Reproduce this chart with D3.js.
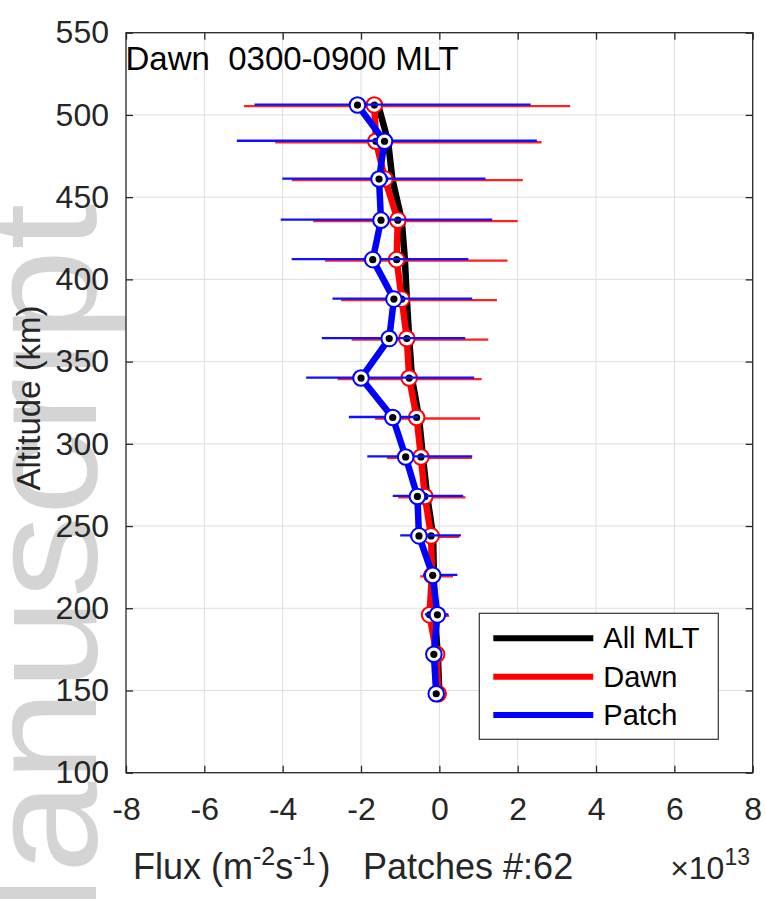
<!DOCTYPE html>
<html>
<head>
<meta charset="utf-8">
<script src="https://cdn.jsdelivr.net/npm/d3@7"></script>
<style>
    body { margin: 0; background: #fff; }
    text { font-family: "Liberation Sans", Arial, Helvetica, sans-serif; }
</style>
</head>
<body>
<div id="chart"></div>
<script>
// altitude bins (km)
const altitude = [506, 484, 461, 436, 412, 388, 364, 340, 316, 292, 268, 244, 220, 196, 172, 148];

// flux, units of 1e13 m^-2 s^-1
const allMlt = [-1.56, -1.31, -1.20, -0.96, -0.88, -0.83, -0.77, -0.70, -0.52, -0.42, -0.31, -0.16, -0.14, -0.12, -0.04, 0.00];

const dawn   = [-1.66, -1.62, -1.39, -1.06, -1.09, -0.96, -0.83, -0.77, -0.58, -0.47, -0.37, -0.21, -0.19, -0.25, -0.07, -0.03];
const dawnLo = [-4.99, -4.19, -3.77, -3.22, -2.92, -2.51, -2.24, -2.60, -1.64, -1.34, -1.05, -0.75, -0.49, -0.45, -0.20, -0.10];
const dawnHi = [3.34, 2.61, 2.13, 2.00, 1.74, 1.47, 1.25, 1.08, 1.04, 0.83, 0.67, 0.51, 0.35, 0.25, 0.10, 0.05];

const patch   = [-2.09, -1.40, -1.54, -1.49, -1.70, -1.16, -1.28, -2.00, -1.19, -0.86, -0.56, -0.52, -0.17, -0.05, -0.14, -0.08];
const patchLo = [-4.72, -5.17, -4.01, -4.05, -3.77, -2.73, -3.00, -3.40, -2.31, -1.84, -1.19, -1.00, -0.42, -0.37, -0.25, -0.15];
const patchHi = [2.33, 2.49, 1.18, 1.35, 0.74, 0.84, 0.66, 0.89, -0.55, 0.84, 0.61, 0.55, 0.46, 0.23, 0.05, 0.00];

const xTicks = [-8, -6, -4, -2, 0, 2, 4, 6, 8];
const yTicks = [100, 150, 200, 250, 300, 350, 400, 450, 500, 550];
const legendNames = ["All MLT", "Dawn", "Patch"];
const legendColors = ["#000000", "#ff0000", "#0000ff"];

const W = 765, H = 899;
const margin = {top: 32.7, right: 12.3, bottom: 126.3, left: 126};
const width = W - margin.left - margin.right;
const height = H - margin.top - margin.bottom;
const axisColor = "#262626";

const svg = d3.select("#chart").append("svg")
    .attr("width", W)
    .attr("height", H);

// watermark behind everything
svg.append("text")
    .attr("transform", "translate(96,1011) rotate(-90) scale(1.065,1)")
    .attr("font-size", 155)
    .attr("fill", "#d4d4d4")
    .text("Manuscript");

const g = svg.append("g")
    .attr("transform", `translate(${margin.left},${margin.top})`);

const x = d3.scaleLinear().domain([-8, 8]).range([0, width]);
const y = d3.scaleLinear().domain([100, 550]).range([height, 0]);

g.append("rect")
    .attr("width", width)
    .attr("height", height)
    .attr("fill", "#fff");

// grid
g.append("g").selectAll("line")
    .data(xTicks.slice(1, -1))
    .join("line")
    .attr("x1", d => x(d)).attr("x2", d => x(d))
    .attr("y1", 0).attr("y2", height)
    .attr("stroke", "#dedede").attr("stroke-width", 1);
g.append("g").selectAll("line")
    .data(yTicks.slice(1, -1))
    .join("line")
    .attr("y1", d => y(d)).attr("y2", d => y(d))
    .attr("x1", 0).attr("x2", width)
    .attr("stroke", "#dedede").attr("stroke-width", 1);

// axes, ticks pointing in
function styleAxis(sel) {
    sel.select(".domain").remove();
    sel.selectAll(".tick line").attr("stroke", axisColor).attr("stroke-width", 1.3);
    sel.selectAll(".tick text")
        .attr("fill", axisColor)
        .attr("font-size", 32)
        .attr("font-family", "'Liberation Sans', Arial, sans-serif");
}

const fmt = d => String(d);

g.append("g")
    .attr("transform", `translate(0,${height})`)
    .call(d3.axisBottom(x).tickValues(xTicks).tickFormat(fmt).tickSizeInner(-7).tickSizeOuter(0).tickPadding(25))
    .call(styleAxis);
g.append("g")
    .call(d3.axisLeft(y).tickValues(yTicks).tickFormat(fmt).tickSizeInner(-7).tickSizeOuter(0).tickPadding(17))
    .call(styleAxis);
g.append("g")
    .call(d3.axisTop(x).tickValues(xTicks).tickSizeInner(-7).tickSizeOuter(0).tickFormat(""))
    .call(styleAxis);
g.append("g")
    .attr("transform", `translate(${width},0)`)
    .call(d3.axisRight(y).tickValues(yTicks).tickSizeInner(-7).tickSizeOuter(0).tickFormat(""))
    .call(styleAxis);

// series
const line = d3.line()
    .x(d => x(d.v))
    .y(d => y(d.alt));

function series(vals) {
    return vals.map((v, i) => ({alt: altitude[i], v: v}));
}

function drawErr(lo, hi, color, dy) {
    g.append("g").selectAll("line")
        .data(altitude)
        .join("line")
        .attr("x1", (d, i) => x(lo[i]))
        .attr("x2", (d, i) => x(hi[i]))
        .attr("y1", d => y(d) + dy)
        .attr("y2", d => y(d) + dy)
        .attr("stroke", color)
        .attr("stroke-width", 2.3);
}

function drawLine(vals, color) {
    g.append("path")
        .datum(series(vals))
        .attr("d", line)
        .attr("fill", "none")
        .attr("stroke", color)
        .attr("stroke-width", 6.5)
        .attr("stroke-linejoin", "round");
}

function drawMarkers(vals, color) {
    const m = g.append("g").selectAll("g")
        .data(series(vals))
        .join("g")
        .attr("transform", d => `translate(${x(d.v)},${y(d.alt)})`);
    m.append("circle")
        .attr("r", 7.8)
        .attr("fill", "#fff")
        .attr("stroke", color)
        .attr("stroke-width", 2);
    m.append("circle")
        .attr("r", 3.6)
        .attr("fill", "#000");
}

drawLine(allMlt, "#000");

drawErr(dawnLo, dawnHi, "#ff2020", 1);
drawLine(dawn, "#ff0000");
drawMarkers(dawn, "#ff0000");

drawErr(patchLo, patchHi, "#1010ff", -0.5);
drawLine(patch, "#0000ff");
drawMarkers(patch, "#0000ff");

// box
g.append("rect")
    .attr("width", width)
    .attr("height", height)
    .attr("fill", "none")
    .attr("stroke", axisColor)
    .attr("stroke-width", 1.3);

// title inside axes
g.append("text")
    .attr("x", -0.5)
    .attr("y", 70 - margin.top)
    .attr("font-size", 33)
    .attr("fill", "#000")
    .style("white-space", "pre")
    .text("Dawn  0300-0900 MLT");

// legend
const leg = svg.append("g").attr("transform", "translate(479.3,613.3)");
leg.append("rect")
    .attr("width", 239)
    .attr("height", 126)
    .attr("fill", "#fff")
    .attr("stroke", "#333")
    .attr("stroke-width", 1.2);
legendNames.forEach((name, i) => {
    const ly = 25 + i * 38.4;
    leg.append("line")
        .attr("x1", 14).attr("x2", 114)
        .attr("y1", ly).attr("y2", ly)
        .attr("stroke", legendColors[i])
        .attr("stroke-width", 6);
    leg.append("text")
        .attr("x", 124)
        .attr("y", ly + 10)
        .attr("font-size", 29)
        .attr("fill", "#000")
        .text(name);
});

// axis labels
svg.append("text")
    .attr("transform", "translate(40,398) rotate(-90)")
    .attr("text-anchor", "middle")
    .attr("font-size", 33)
    .attr("fill", axisColor)
    .text("Altitude (km)");

const xl = svg.append("text")
    .attr("x", 133)
    .attr("y", 879)
    .attr("font-size", 36)
    .attr("fill", axisColor)
    .style("white-space", "pre");
xl.append("tspan").text("Flux (m");
xl.append("tspan").attr("dy", -14).attr("font-size", 25).text("-2");
xl.append("tspan").attr("dy", 14).text("s");
xl.append("tspan").attr("dy", -14).attr("font-size", 25).text("-1");
xl.append("tspan").attr("dy", 14).attr("dx", 3).text(")");
xl.append("tspan").attr("x", 363).text("Patches #:62");

const ex = svg.append("text")
    .attr("x", 750)
    .attr("y", 879)
    .attr("text-anchor", "end")
    .attr("font-size", 32)
    .attr("fill", axisColor);
ex.append("tspan").text("\u00d710");
ex.append("tspan").attr("dy", -14).attr("font-size", 23).text("13");
</script>
</body>
</html>
